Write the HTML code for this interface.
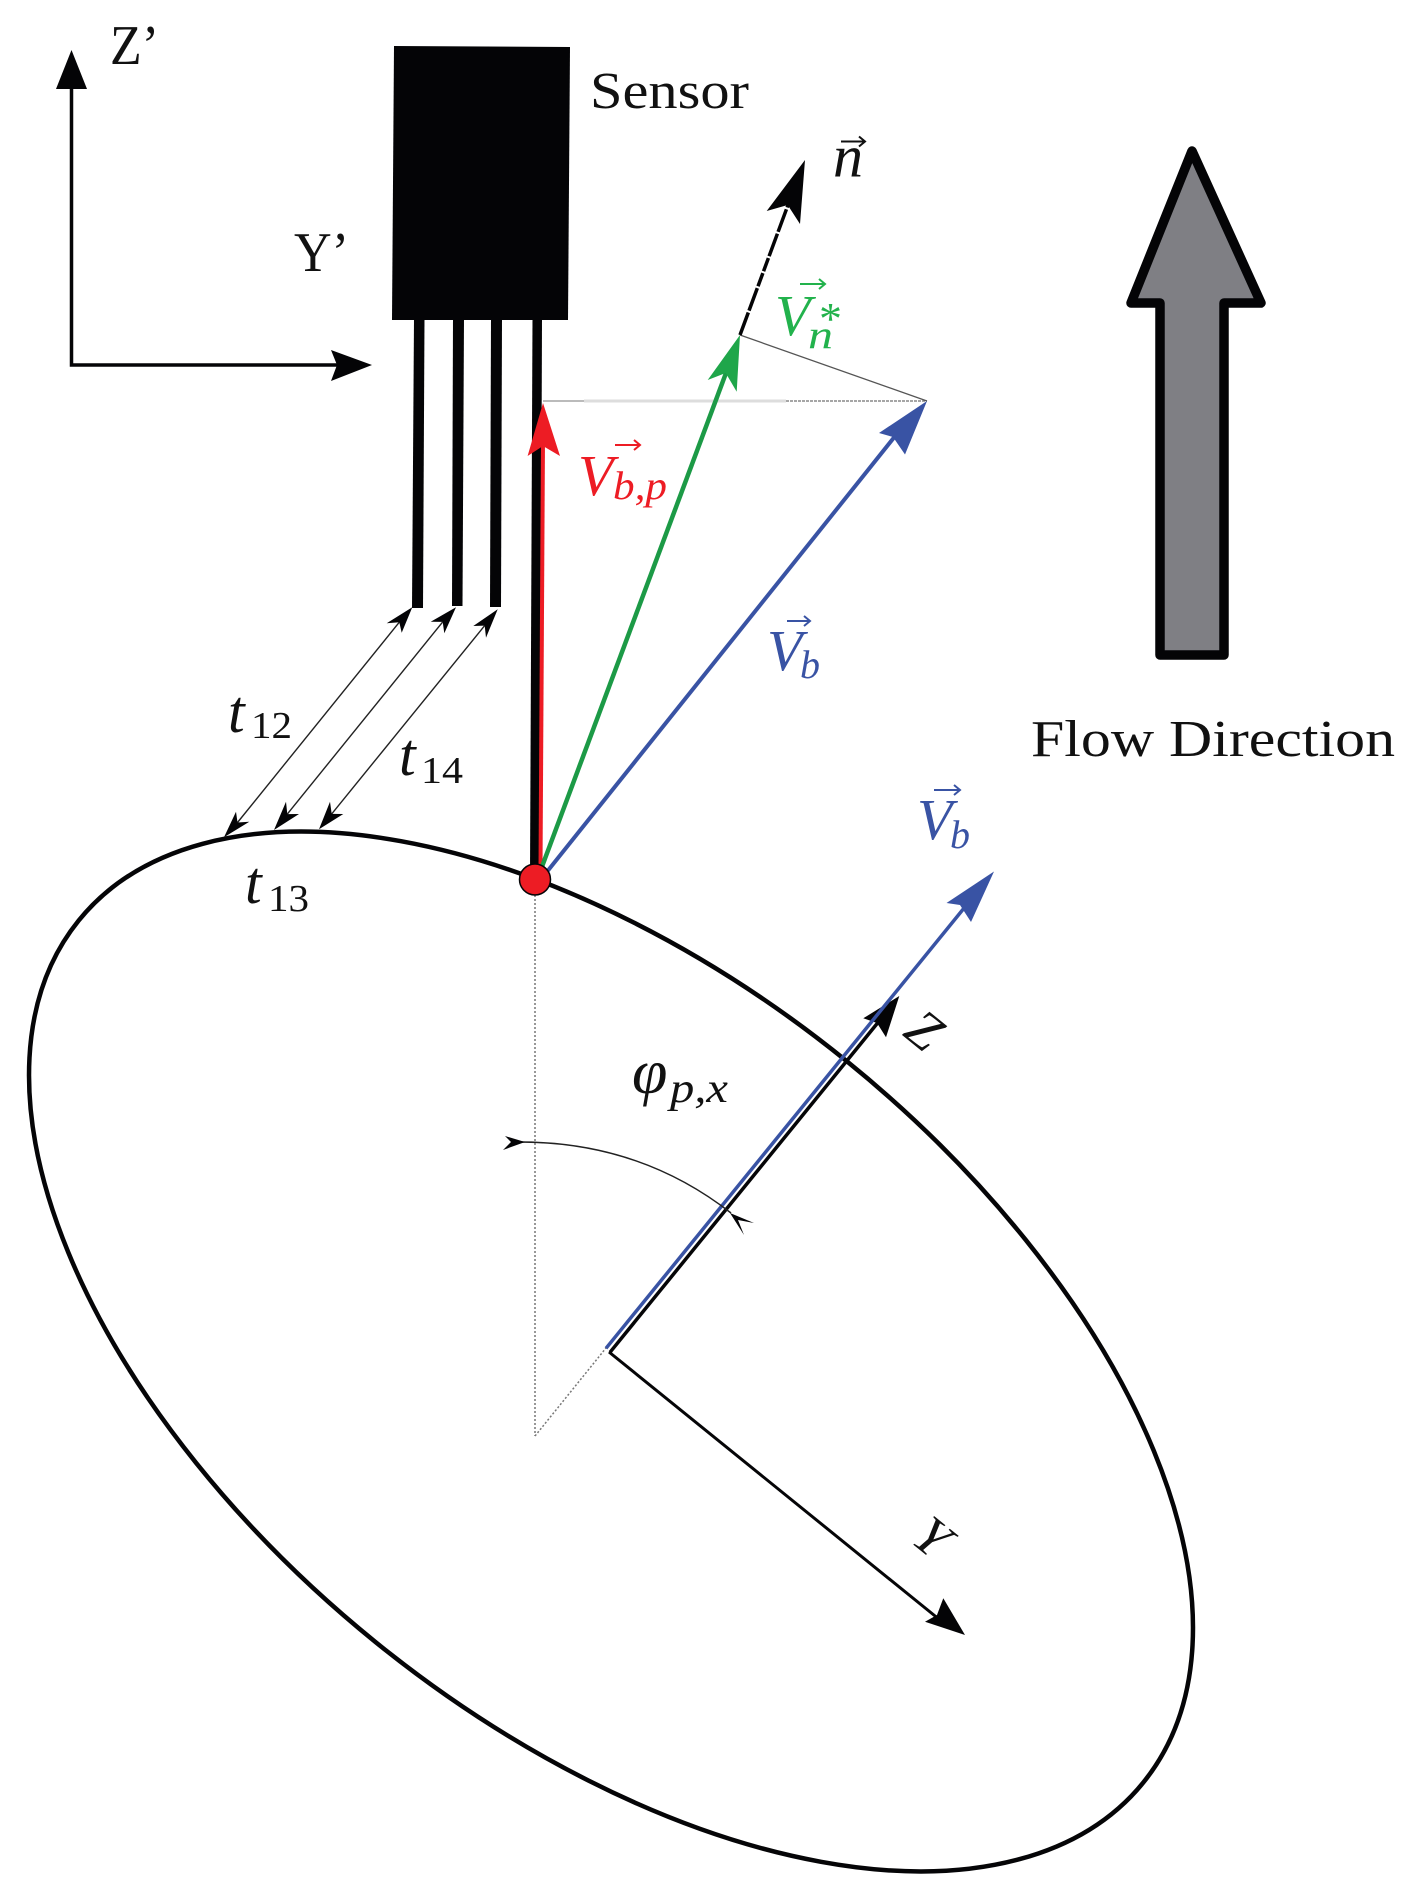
<!DOCTYPE html>
<html>
<head>
<meta charset="utf-8">
<style>
html,body{margin:0;padding:0;background:#fff;width:1408px;height:1895px;overflow:hidden;}
svg{display:block;}
text{font-family:"Liberation Serif",serif;fill:#111;}
.i{font-style:italic;}
</style>
</head>
<body>
<svg width="1408" height="1895" viewBox="0 0 1408 1895" xmlns="http://www.w3.org/2000/svg">
<rect width="1408" height="1895" fill="#fff"/>

<!-- disc -->
<path d="M78.700 920.500 A685 374 39 0 1 846.400 1060.900 A685 374 39 0 1 1143.300 1782.500 A685 374 39 0 1 375.600 1642.100 A685 374 39 0 1 78.700 920.500 Z" fill="none" stroke="#050507" stroke-width="4.500"/>

<!-- sensor body and leads -->
<polygon points="394,46 570,47 568,320 392,320" fill="#040406"/>
<polygon points="414,318 424.500,318 423,608 412,608" fill="#040406"/>
<polygon points="453,318 464,318 462.500,606 452,606" fill="#040406"/>
<polygon points="491,318 502,318 501,607 490,607" fill="#040406"/>
<polygon points="532.500,318 542,318 540,875 530,875" fill="#040406"/>

<!-- Z', Y' axes -->
<path d="M71.500 85 V365 H340" fill="none" stroke="#050507" stroke-width="3.500"/>
<polygon points="71.500,50 87,89 56,89" fill="#040406"/>
<polygon points="372,365 331,350 337,365 331,381" fill="#040406"/>

<!-- dotted and thin construction lines -->
<line x1="543" y1="401" x2="584" y2="401" stroke="#bbb" stroke-width="2"/>
<line x1="584" y1="401" x2="786" y2="401" stroke="#ddd" stroke-width="3"/>
<line x1="786" y1="401" x2="927" y2="401" stroke="#888" stroke-width="1.500" stroke-dasharray="3 1"/>
<line x1="740" y1="335" x2="927" y2="401" stroke="#555" stroke-width="1.300"/>
<line x1="535" y1="895" x2="535" y2="1436" stroke="#777" stroke-width="1.500" stroke-dasharray="2 2"/>
<line x1="535" y1="1436" x2="606" y2="1348" stroke="#777" stroke-width="1.500" stroke-dasharray="2 2"/>

<!-- n dashed -->
<line x1="740" y1="335" x2="788" y2="205" stroke="#040406" stroke-width="3.500" stroke-dasharray="24 2 24 2 14 2 14 2"/>
<polygon points="805,160 800,224 787.700,205 766.700,211" fill="#040406"/>

<!-- red vector -->
<line x1="540.500" y1="870" x2="543" y2="440" stroke="#ed1c24" stroke-width="4"/>
<polygon points="543,403 560,456 543,446 527.600,456" fill="#ed1c24"/>

<!-- green vector -->
<line x1="540" y1="872" x2="726" y2="373" stroke="#1c9a46" stroke-width="4.500"/>
<polygon points="740,335 736.700,391.700 725.700,373 707.700,380" fill="#1fa64a"/>

<!-- blue vector -->
<line x1="542" y1="878" x2="900" y2="430" stroke="#3953a4" stroke-width="4"/>
<polygon points="927,401 905,454.500 893,437 879,433" fill="#3953a4"/>

<!-- red dot -->
<circle cx="535" cy="879.500" r="15.500" fill="#ed1c24" stroke="#050507" stroke-width="1.500"/>

<!-- flow arrow -->
<polygon points="1192,151 1261,303 1224,303 1224,655 1160,655 1160,303 1131,303" fill="#7f7f84" stroke="#040406" stroke-width="9.500" stroke-linejoin="round"/>

<!-- t arrows -->
<g stroke="#222" stroke-width="1.400">
<line x1="399.300" y1="622.200" x2="237.500" y2="822.500"/>
<line x1="442.700" y1="621.900" x2="287.300" y2="814.100"/>
<line x1="484.700" y1="625.600" x2="331.700" y2="813.900"/>
</g>
<g fill="#040406">
<polygon points="412.300,607.300 401.700,632.700 399.300,622.200 386.700,623.300"/>
<polygon points="456,607.300 444.300,633.300 442.700,621.900 430.700,621.700"/>
<polygon points="497.700,609.300 486,637.700 484.700,625.600 473.300,626"/>
<polygon points="224,837.300 236,811.700 237.500,822.500 249.300,821.700"/>
<polygon points="274,830 286,801.700 287.300,814.100 299,814"/>
<polygon points="319,829.300 330,801.700 331.700,813.900 343.300,814"/>
</g>

<!-- Z, Y local axes and blue projected vector -->
<line x1="610" y1="1352.300" x2="880" y2="1020" stroke="#050507" stroke-width="3.500"/>
<polygon points="899.300,996 886,1037.300 877,1023 863.300,1018.300" fill="#040406"/>
<line x1="609" y1="1352" x2="940" y2="1620" stroke="#050507" stroke-width="3"/>
<polygon points="965,1635 925,1621.700 937,1615 943.300,1598.300" fill="#040406"/>
<line x1="606" y1="1348.300" x2="975" y2="894.600" stroke="#3953a4" stroke-width="3.500"/>
<polygon points="994,871.500 971,922 960,905 946.500,903" fill="#3953a4"/>

<!-- angle arc -->
<path d="M520 1142 Q640 1142 731 1213" fill="none" stroke="#222" stroke-width="1.500"/>
<polygon points="525,1142 503,1150 511,1142 505,1136" fill="#040406"/>
<polygon points="730,1213 754,1223 738,1220 744,1235" fill="#040406"/>

<!-- labels -->
<text x="110" y="64" font-size="56" textLength="49" lengthAdjust="spacingAndGlyphs">Z’</text>
<text x="294" y="271" font-size="56" textLength="55" lengthAdjust="spacingAndGlyphs">Y’</text>
<text x="590" y="108" font-size="52" textLength="159" lengthAdjust="spacingAndGlyphs">Sensor</text>
<text x="1031" y="756" font-size="52" textLength="364" lengthAdjust="spacingAndGlyphs">Flow Direction</text>

<text class="i" x="228" y="732" font-size="60">t</text>
<text x="251" y="738" font-size="38" textLength="41" lengthAdjust="spacingAndGlyphs">12</text>
<text class="i" x="399" y="775" font-size="60">t</text>
<text x="421" y="783" font-size="38" textLength="42" lengthAdjust="spacingAndGlyphs">14</text>
<text class="i" x="245" y="903" font-size="60">t</text>
<text x="268" y="911" font-size="38" textLength="41" lengthAdjust="spacingAndGlyphs">13</text>

<text class="i" x="632" y="1093" font-size="64">φ</text>
<text class="i" x="670" y="1102" font-size="42" textLength="58" lengthAdjust="spacingAndGlyphs">p,x</text>

<!-- n vector label -->
<text class="i" x="833" y="176.500" font-size="60">n</text>
<path d="M841 141.500 H865 M859 136.500 L865 141.500 L859 146.500" fill="none" stroke="#111" stroke-width="2"/>

<!-- V b,p -->
<text class="i" x="578" y="495" font-size="58" style="fill:#ed1c24">V</text>
<text class="i" x="613" y="499" font-size="40" textLength="54" lengthAdjust="spacingAndGlyphs" style="fill:#ed1c24">b,p</text>
<path d="M615 445 H640 M634 440 L640 445 L634 450" fill="none" stroke="#ed1c24" stroke-width="2"/>

<!-- V n* -->
<text class="i" x="775" y="335" font-size="58" style="fill:#22b24c">V</text>
<text class="i" x="808" y="348" font-size="40" textLength="25" lengthAdjust="spacingAndGlyphs" style="fill:#22b24c">n</text>
<text x="819" y="334" font-size="46" style="fill:#22b24c">*</text>
<path d="M800 284 H825 M819 279 L825 284 L819 289" fill="none" stroke="#22b24c" stroke-width="2"/>

<!-- V b (1) -->
<text class="i" x="767" y="670" font-size="58" style="fill:#3953a4">V</text>
<text class="i" x="800" y="678" font-size="40" style="fill:#3953a4">b</text>
<path d="M787 621 H810 M804 616 L810 621 L804 626" fill="none" stroke="#3953a4" stroke-width="2"/>

<!-- V b (2) -->
<text class="i" x="917" y="839" font-size="58" style="fill:#3953a4">V</text>
<text class="i" x="950" y="848" font-size="40" style="fill:#3953a4">b</text>
<path d="M934 790 H960 M954 785 L960 790 L954 795" fill="none" stroke="#3953a4" stroke-width="2"/>

<!-- rotated Z / Y -->
<text class="i" x="0" y="0" font-size="54" text-anchor="middle" transform="translate(913 1044) rotate(39)">Z</text>
<text class="i" x="0" y="0" font-size="54" text-anchor="middle" transform="translate(921 1551) rotate(39)">Y</text>
</svg>
</body>
</html>
